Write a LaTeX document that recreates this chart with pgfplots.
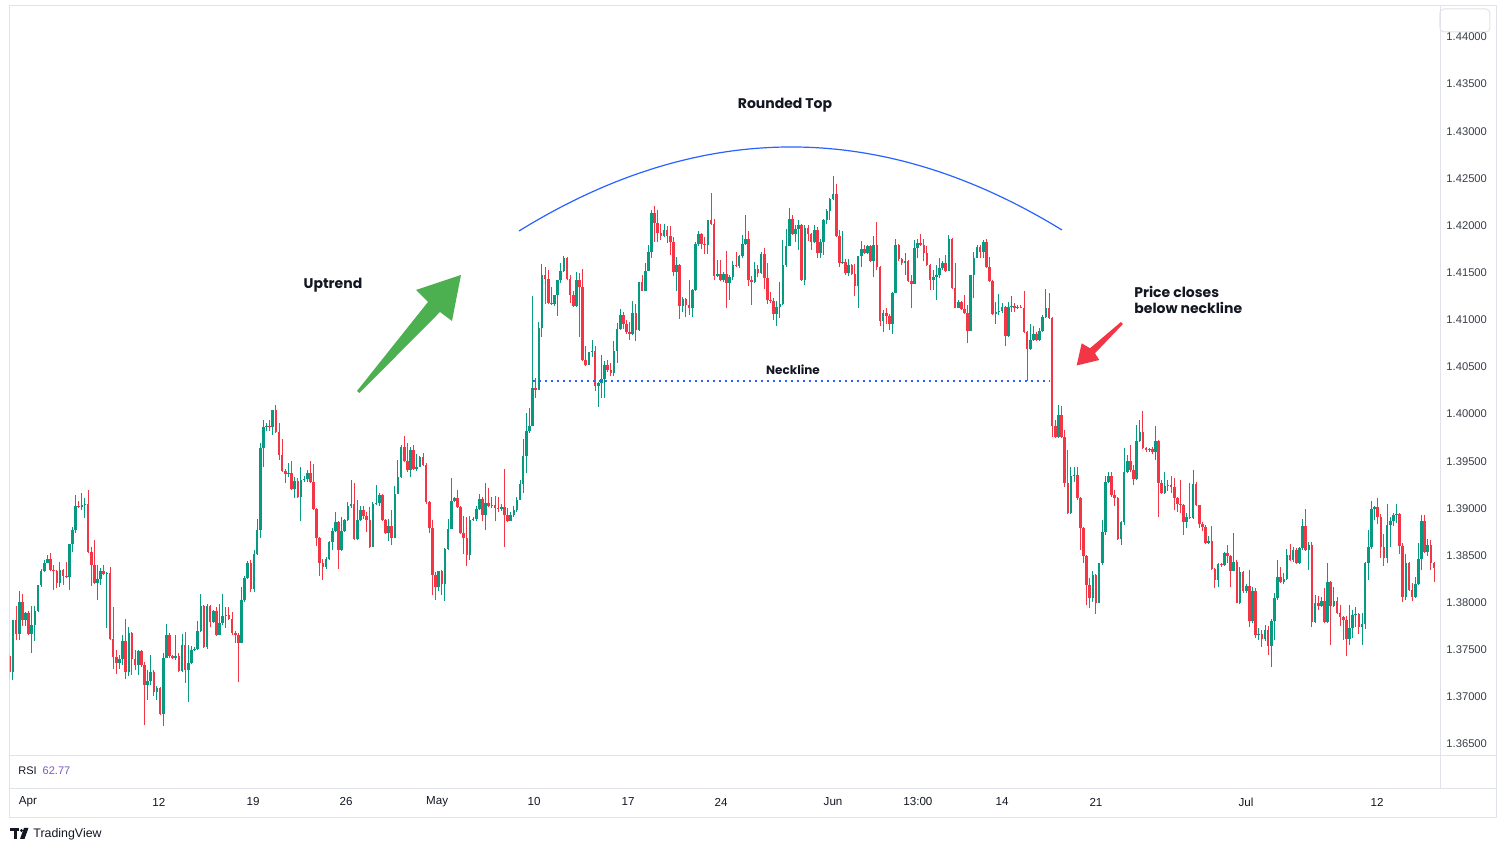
\documentclass[border=0pt]{standalone}
\usepackage{fontspec}
\setmainfont{Liberation Sans}
\newfontfamily\annfont{Poppins}
\usepackage{pgfplots}
\pgfplotsset{compat=1.18}
\usepackage{pgfplotstable}
\definecolor{upc}{HTML}{089981}
\definecolor{dnc}{HTML}{F23645}
\definecolor{tvblue}{HTML}{2962FF}
\definecolor{txt}{HTML}{131722}
\definecolor{scl}{HTML}{3B3F4A}
\definecolor{brd}{HTML}{E0E3EB}
\definecolor{arrg}{HTML}{4CAF50}
\definecolor{rsic}{HTML}{7E57C2}

% GBPUSD 4h candles: n o h l c  (rising candles)
\pgfplotstableread{
n o h l c
0 1.3726 1.3782 1.3718 1.3782
2 1.3767 1.3812 1.3760 1.3801
4 1.3782 1.3790 1.3775 1.3789
6 1.3767 1.3796 1.3747 1.3776
7 1.3776 1.3796 1.3759 1.3791
8 1.3791 1.3819 1.3790 1.3819
9 1.3819 1.3836 1.3817 1.3833
10 1.3833 1.3845 1.3832 1.3842
11 1.3842 1.3850 1.3842 1.3846
15 1.3821 1.3843 1.3817 1.3835
18 1.3827 1.3862 1.3813 1.3862
19 1.3862 1.3880 1.3854 1.3877
20 1.3877 1.3914 1.3874 1.3902
22 1.3901 1.3916 1.3898 1.3903
23 1.3903 1.3911 1.3890 1.3905
27 1.3821 1.3840 1.3803 1.3825
28 1.3825 1.3837 1.3819 1.3834
30 1.3830 1.3832 1.3773 1.3831
34 1.3736 1.3744 1.3730 1.3740
35 1.3740 1.3766 1.3734 1.3759
37 1.3726 1.3774 1.3722 1.3768
40 1.3734 1.3750 1.3723 1.3749
43 1.3712 1.3728 1.3697 1.3717
44 1.3717 1.3744 1.3713 1.3726
46 1.3705 1.3711 1.3697 1.3709
48 1.3682 1.3747 1.3669 1.3741
49 1.3741 1.3777 1.3741 1.3766
52 1.3741 1.3766 1.3739 1.3743
54 1.3727 1.3767 1.3726 1.3755
56 1.3728 1.3755 1.3695 1.3736
57 1.3736 1.3754 1.3735 1.3750
58 1.3750 1.3753 1.3749 1.3751
59 1.3751 1.3780 1.3750 1.3770
60 1.3770 1.3809 1.3769 1.3796
62 1.3753 1.3798 1.3751 1.3796
64 1.3779 1.3792 1.3778 1.3791
66 1.3766 1.3798 1.3766 1.3778
67 1.3778 1.3809 1.3776 1.3786
68 1.3786 1.3795 1.3773 1.3787
73 1.3757 1.3816 1.3757 1.3803
74 1.3803 1.3828 1.3801 1.3826
75 1.3826 1.3844 1.3825 1.3842
77 1.3814 1.3856 1.3811 1.3851
78 1.3851 1.3889 1.3850 1.3877
79 1.3877 1.3969 1.3868 1.3964
80 1.3964 1.3994 1.3944 1.3986
81 1.3986 1.3990 1.3982 1.3987
83 1.3986 1.4004 1.3978 1.4004
88 1.3936 1.3948 1.3933 1.3937
90 1.3920 1.3933 1.3911 1.3929
92 1.3912 1.3944 1.3886 1.3930
93 1.3930 1.3934 1.3928 1.3931
94 1.3931 1.3941 1.3928 1.3937
100 1.3838 1.3848 1.3836 1.3846
101 1.3846 1.3865 1.3845 1.3864
102 1.3864 1.3879 1.3856 1.3876
103 1.3876 1.3896 1.3875 1.3885
105 1.3856 1.3891 1.3855 1.3876
106 1.3876 1.3889 1.3875 1.3888
107 1.3888 1.3907 1.3887 1.3902
108 1.3902 1.3930 1.3900 1.3905
110 1.3867 1.3909 1.3866 1.3888
111 1.3888 1.3902 1.3887 1.3898
115 1.3859 1.3907 1.3859 1.3905
116 1.3905 1.3925 1.3904 1.3906
117 1.3906 1.3916 1.3902 1.3914
120 1.3874 1.3889 1.3865 1.3881
122 1.3868 1.3924 1.3868 1.3915
123 1.3915 1.3951 1.3915 1.3933
124 1.3933 1.3967 1.3932 1.3965
127 1.3941 1.3965 1.3933 1.3962
129 1.3942 1.3958 1.3940 1.3944
130 1.3944 1.3955 1.3944 1.3954
136 1.3817 1.3834 1.3812 1.3834
138 1.3820 1.3858 1.3802 1.3857
139 1.3857 1.3889 1.3856 1.3878
140 1.3878 1.3932 1.3878 1.3908
141 1.3908 1.3912 1.3907 1.3911
146 1.3850 1.3892 1.3845 1.3888
147 1.3888 1.3891 1.3886 1.3889
148 1.3889 1.3902 1.3886 1.3899
149 1.3899 1.3915 1.3898 1.3910
151 1.3893 1.3927 1.3877 1.3906
153 1.3902 1.3912 1.3900 1.3904
156 1.3899 1.3905 1.3897 1.3901
159 1.3886 1.3896 1.3886 1.3893
160 1.3893 1.3902 1.3891 1.3898
161 1.3898 1.3912 1.3896 1.3909
162 1.3909 1.3930 1.3909 1.3926
163 1.3926 1.3973 1.3916 1.3955
164 1.3955 1.4001 1.3937 1.3982
165 1.3982 1.4006 1.3980 1.3987
166 1.3987 1.4125 1.3987 1.4028
168 1.4026 1.4098 1.4026 1.4091
169 1.4091 1.4159 1.4082 1.4148
173 1.4117 1.4126 1.4115 1.4126
174 1.4126 1.4142 1.4104 1.4142
175 1.4142 1.4160 1.4139 1.4152
176 1.4152 1.4168 1.4151 1.4165
180 1.4115 1.4151 1.4114 1.4142
184 1.4052 1.4066 1.4052 1.4066
185 1.4066 1.4079 1.4061 1.4067
187 1.4030 1.4034 1.4007 1.4033
188 1.4033 1.4063 1.4017 1.4037
189 1.4037 1.4056 1.4017 1.4052
192 1.4044 1.4078 1.4040 1.4067
193 1.4067 1.4097 1.4054 1.4090
194 1.4090 1.4111 1.4089 1.4105
198 1.4085 1.4120 1.4084 1.4107
200 1.4089 1.4140 1.4088 1.4140
202 1.4131 1.4160 1.4131 1.4152
203 1.4152 1.4179 1.4152 1.4172
204 1.4172 1.4216 1.4166 1.4213
208 1.4189 1.4202 1.4188 1.4195
212 1.4151 1.4167 1.4131 1.4158
214 1.4115 1.4124 1.4108 1.4122
217 1.4112 1.4133 1.4103 1.4132
218 1.4132 1.4183 1.4131 1.4180
219 1.4180 1.4194 1.4178 1.4191
222 1.4179 1.4206 1.4170 1.4206
225 1.4146 1.4163 1.4145 1.4149
227 1.4142 1.4151 1.4140 1.4149
229 1.4139 1.4147 1.4121 1.4145
230 1.4145 1.4162 1.4142 1.4158
232 1.4157 1.4169 1.4155 1.4168
233 1.4168 1.4190 1.4166 1.4180
234 1.4180 1.4211 1.4179 1.4186
237 1.4140 1.4161 1.4139 1.4154
239 1.4150 1.4172 1.4149 1.4170
244 1.4106 1.4120 1.4093 1.4114
245 1.4114 1.4140 1.4102 1.4117
246 1.4117 1.4185 1.4116 1.4158
247 1.4158 1.4196 1.4156 1.4178
248 1.4178 1.4219 1.4178 1.4207
250 1.4191 1.4201 1.4183 1.4196
251 1.4196 1.4206 1.4174 1.4201
253 1.4142 1.4201 1.4137 1.4197
256 1.4182 1.4201 1.4181 1.4195
258 1.4171 1.4186 1.4166 1.4182
259 1.4182 1.4207 1.4169 1.4206
260 1.4206 1.4218 1.4202 1.4215
261 1.4215 1.4229 1.4206 1.4228
262 1.4228 1.4252 1.4227 1.4233
265 1.4160 1.4194 1.4159 1.4161
267 1.4150 1.4164 1.4146 1.4158
270 1.4136 1.4168 1.4113 1.4168
271 1.4168 1.4184 1.4156 1.4175
273 1.4171 1.4179 1.4170 1.4178
275 1.4162 1.4189 1.4145 1.4179
278 1.4099 1.4110 1.4087 1.4107
281 1.4095 1.4129 1.4085 1.4128
282 1.4128 1.4186 1.4128 1.4179
285 1.4160 1.4171 1.4148 1.4162
288 1.4138 1.4185 1.4138 1.4176
289 1.4176 1.4186 1.4165 1.4181
294 1.4142 1.4153 1.4132 1.4145
295 1.4145 1.4158 1.4121 1.4148
296 1.4148 1.4165 1.4144 1.4155
297 1.4155 1.4162 1.4153 1.4160
299 1.4152 1.4190 1.4152 1.4186
302 1.4113 1.4121 1.4112 1.4119
306 1.4088 1.4148 1.4088 1.4148
307 1.4148 1.4172 1.4123 1.4166
308 1.4166 1.4179 1.4165 1.4177
310 1.4172 1.4185 1.4165 1.4183
314 1.4106 1.4119 1.4096 1.4108
315 1.4108 1.4127 1.4105 1.4109
316 1.4109 1.4118 1.4107 1.4114
318 1.4083 1.4119 1.4082 1.4114
319 1.4114 1.4125 1.4108 1.4115
321 1.4112 1.4116 1.4111 1.4114
325 1.4069 1.4095 1.4068 1.4079
326 1.4079 1.4093 1.4078 1.4085
328 1.4079 1.4091 1.4078 1.4088
329 1.4088 1.4105 1.4087 1.4103
330 1.4103 1.4133 1.4102 1.4112
334 1.3976 1.4010 1.3975 1.3999
338 1.3895 1.3944 1.3894 1.3934
339 1.3934 1.3944 1.3928 1.3935
345 1.3805 1.3833 1.3801 1.3829
347 1.3800 1.3842 1.3799 1.3842
348 1.3842 1.3888 1.3840 1.3875
349 1.3875 1.3934 1.3872 1.3928
350 1.3928 1.3939 1.3927 1.3934
354 1.3867 1.3886 1.3861 1.3885
355 1.3885 1.3964 1.3882 1.3939
356 1.3939 1.3957 1.3937 1.3950
359 1.3931 1.3988 1.3930 1.3971
360 1.3971 1.3994 1.3970 1.3981
363 1.3962 1.3964 1.3960 1.3963
365 1.3960 1.3987 1.3951 1.3971
368 1.3916 1.3939 1.3915 1.3924
369 1.3924 1.3930 1.3918 1.3925
375 1.3885 1.3895 1.3879 1.3891
377 1.3890 1.3941 1.3889 1.3926
382 1.3863 1.3871 1.3862 1.3865
385 1.3824 1.3842 1.3817 1.3841
387 1.3840 1.3854 1.3839 1.3853
390 1.3834 1.3874 1.3833 1.3843
392 1.3800 1.3838 1.3798 1.3832
394 1.3812 1.3820 1.3810 1.3818
396 1.3780 1.3816 1.3778 1.3812
398 1.3766 1.3773 1.3760 1.3767
400 1.3761 1.3776 1.3759 1.3771
402 1.3754 1.3783 1.3732 1.3780
403 1.3780 1.3810 1.3760 1.3805
404 1.3805 1.3845 1.3803 1.3827
406 1.3822 1.3831 1.3820 1.3825
407 1.3825 1.3857 1.3824 1.3850
409 1.3845 1.3859 1.3843 1.3856
411 1.3842 1.3859 1.3841 1.3858
412 1.3858 1.3889 1.3856 1.3881
414 1.3856 1.3864 1.3835 1.3861
416 1.3779 1.3808 1.3778 1.3800
418 1.3796 1.3806 1.3795 1.3802
420 1.3779 1.3842 1.3778 1.3822
422 1.3796 1.3816 1.3795 1.3802
427 1.3761 1.3797 1.3755 1.3773
428 1.3773 1.3792 1.3762 1.3787
429 1.3787 1.3795 1.3774 1.3788
431 1.3774 1.3789 1.3755 1.3777
432 1.3777 1.3843 1.3772 1.3842
433 1.3842 1.3877 1.3824 1.3859
434 1.3859 1.3908 1.3857 1.3899
435 1.3899 1.3902 1.3888 1.3901
439 1.3847 1.3905 1.3842 1.3882
440 1.3882 1.3891 1.3859 1.3887
441 1.3887 1.3895 1.3881 1.3893
442 1.3893 1.3905 1.3884 1.3894
445 1.3806 1.3852 1.3803 1.3842
448 1.3806 1.3827 1.3805 1.3820
449 1.3820 1.3863 1.3819 1.3846
450 1.3846 1.3893 1.3835 1.3886
452 1.3854 1.3867 1.3849 1.3861
}\upcandles

% falling candles
\pgfplotstableread{
n o h l c
-1 1.3743 1.3746 1.3719 1.3726
1 1.3782 1.3796 1.3760 1.3767
3 1.3801 1.3809 1.3775 1.3782
5 1.3789 1.3791 1.3766 1.3767
12 1.3846 1.3853 1.3833 1.3835
13 1.3835 1.3840 1.3813 1.3833
14 1.3833 1.3835 1.3815 1.3821
16 1.3835 1.3836 1.3819 1.3828
17 1.3828 1.3843 1.3826 1.3827
21 1.3902 1.3908 1.3900 1.3901
24 1.3905 1.3919 1.3853 1.3854
25 1.3854 1.3859 1.3818 1.3840
26 1.3840 1.3866 1.3820 1.3821
29 1.3834 1.3840 1.3829 1.3830
31 1.3831 1.3838 1.3760 1.3761
32 1.3761 1.3795 1.3729 1.3742
33 1.3742 1.3750 1.3724 1.3736
36 1.3759 1.3783 1.3719 1.3726
38 1.3768 1.3769 1.3723 1.3740
39 1.3740 1.3750 1.3728 1.3734
41 1.3749 1.3750 1.3732 1.3734
42 1.3734 1.3737 1.3670 1.3712
45 1.3726 1.3728 1.3701 1.3705
47 1.3709 1.3710 1.3681 1.3682
50 1.3766 1.3768 1.3741 1.3743
51 1.3743 1.3744 1.3740 1.3741
53 1.3743 1.3746 1.3726 1.3727
55 1.3755 1.3769 1.3715 1.3728
61 1.3796 1.3797 1.3752 1.3753
63 1.3796 1.3797 1.3774 1.3779
65 1.3791 1.3795 1.3765 1.3766
69 1.3787 1.3795 1.3782 1.3783
70 1.3783 1.3790 1.3766 1.3768
71 1.3768 1.3770 1.3757 1.3766
72 1.3766 1.3768 1.3716 1.3757
76 1.3842 1.3845 1.3811 1.3814
82 1.3987 1.3994 1.3982 1.3986
84 1.4004 1.4010 1.3980 1.3981
85 1.3981 1.3990 1.3951 1.3957
86 1.3957 1.3974 1.3939 1.3940
87 1.3940 1.3942 1.3927 1.3936
89 1.3937 1.3950 1.3919 1.3920
91 1.3929 1.3932 1.3911 1.3912
95 1.3937 1.3950 1.3927 1.3928
96 1.3928 1.3947 1.3898 1.3899
97 1.3899 1.3900 1.3860 1.3869
98 1.3869 1.3870 1.3828 1.3842
99 1.3842 1.3846 1.3824 1.3838
104 1.3885 1.3886 1.3836 1.3856
109 1.3905 1.3927 1.3866 1.3867
112 1.3898 1.3902 1.3889 1.3892
113 1.3892 1.3896 1.3875 1.3888
114 1.3888 1.3901 1.3858 1.3859
118 1.3914 1.3915 1.3887 1.3888
119 1.3888 1.3889 1.3873 1.3874
121 1.3881 1.3898 1.3861 1.3868
125 1.3965 1.3977 1.3949 1.3950
126 1.3950 1.3969 1.3939 1.3941
128 1.3962 1.3967 1.3941 1.3942
131 1.3954 1.3959 1.3945 1.3946
132 1.3946 1.3948 1.3905 1.3907
133 1.3907 1.3908 1.3874 1.3879
134 1.3879 1.3888 1.3808 1.3829
135 1.3829 1.3832 1.3803 1.3817
137 1.3834 1.3835 1.3808 1.3820
142 1.3911 1.3919 1.3900 1.3901
143 1.3901 1.3902 1.3873 1.3874
144 1.3874 1.3892 1.3852 1.3869
145 1.3869 1.3891 1.3839 1.3850
150 1.3910 1.3912 1.3886 1.3893
152 1.3906 1.3921 1.3901 1.3902
154 1.3904 1.3913 1.3886 1.3900
155 1.3900 1.3912 1.3896 1.3899
157 1.3901 1.3942 1.3859 1.3893
158 1.3893 1.3900 1.3885 1.3886
167 1.4028 1.4038 1.4017 1.4026
170 1.4148 1.4156 1.4117 1.4143
171 1.4143 1.4153 1.4117 1.4118
172 1.4118 1.4135 1.4116 1.4117
177 1.4165 1.4167 1.4142 1.4143
178 1.4143 1.4148 1.4118 1.4126
179 1.4126 1.4130 1.4114 1.4115
181 1.4142 1.4150 1.4082 1.4135
182 1.4135 1.4154 1.4056 1.4057
183 1.4057 1.4072 1.4051 1.4052
186 1.4067 1.4072 1.4024 1.4030
190 1.4052 1.4057 1.4045 1.4047
191 1.4047 1.4054 1.4040 1.4044
195 1.4105 1.4108 1.4090 1.4095
196 1.4095 1.4100 1.4085 1.4087
197 1.4087 1.4098 1.4079 1.4085
199 1.4107 1.4117 1.4078 1.4089
201 1.4140 1.4147 1.4130 1.4131
205 1.4213 1.4221 1.4183 1.4203
206 1.4203 1.4216 1.4183 1.4192
207 1.4192 1.4202 1.4185 1.4189
209 1.4195 1.4199 1.4181 1.4189
210 1.4189 1.4199 1.4169 1.4182
211 1.4182 1.4188 1.4146 1.4151
213 1.4158 1.4159 1.4101 1.4115
215 1.4122 1.4123 1.4103 1.4116
216 1.4116 1.4142 1.4105 1.4112
220 1.4191 1.4192 1.4175 1.4180
221 1.4180 1.4188 1.4170 1.4179
223 1.4206 1.4235 1.4201 1.4202
224 1.4202 1.4207 1.4142 1.4146
226 1.4149 1.4163 1.4141 1.4142
228 1.4149 1.4173 1.4112 1.4139
231 1.4158 1.4172 1.4156 1.4157
235 1.4186 1.4194 1.4136 1.4142
236 1.4142 1.4146 1.4116 1.4140
238 1.4154 1.4158 1.4145 1.4150
240 1.4170 1.4176 1.4133 1.4144
241 1.4144 1.4160 1.4117 1.4121
242 1.4121 1.4129 1.4118 1.4120
243 1.4120 1.4123 1.4100 1.4106
249 1.4207 1.4211 1.4190 1.4191
252 1.4201 1.4202 1.4141 1.4142
254 1.4197 1.4201 1.4184 1.4191
255 1.4191 1.4192 1.4174 1.4182
257 1.4195 1.4198 1.4165 1.4171
263 1.4233 1.4244 1.4188 1.4189
264 1.4189 1.4195 1.4156 1.4160
266 1.4161 1.4164 1.4148 1.4150
268 1.4158 1.4159 1.4148 1.4149
269 1.4149 1.4159 1.4125 1.4136
272 1.4175 1.4179 1.4170 1.4171
274 1.4178 1.4179 1.4161 1.4162
276 1.4179 1.4204 1.4153 1.4156
277 1.4156 1.4157 1.4093 1.4099
279 1.4107 1.4112 1.4096 1.4104
280 1.4104 1.4106 1.4089 1.4095
283 1.4179 1.4180 1.4162 1.4164
284 1.4164 1.4166 1.4158 1.4160
286 1.4162 1.4163 1.4140 1.4141
287 1.4141 1.4148 1.4112 1.4138
290 1.4181 1.4191 1.4178 1.4179
291 1.4179 1.4186 1.4162 1.4171
292 1.4171 1.4178 1.4157 1.4158
293 1.4158 1.4159 1.4132 1.4142
298 1.4160 1.4169 1.4151 1.4152
300 1.4186 1.4187 1.4133 1.4134
301 1.4134 1.4160 1.4112 1.4113
303 1.4119 1.4120 1.4110 1.4111
304 1.4111 1.4126 1.4106 1.4107
305 1.4107 1.4116 1.4075 1.4088
309 1.4177 1.4179 1.4165 1.4172
311 1.4183 1.4186 1.4155 1.4156
312 1.4156 1.4167 1.4140 1.4141
313 1.4141 1.4142 1.4105 1.4106
317 1.4114 1.4115 1.4072 1.4083
320 1.4115 1.4118 1.4108 1.4112
322 1.4114 1.4116 1.4112 1.4113
323 1.4113 1.4130 1.4086 1.4087
324 1.4087 1.4088 1.4035 1.4069
327 1.4085 1.4087 1.4078 1.4079
331 1.4112 1.4128 1.4101 1.4102
332 1.4102 1.4103 1.3976 1.3987
333 1.3987 1.3994 1.3975 1.3976
335 1.3999 1.4008 1.3975 1.3976
336 1.3976 1.3983 1.3923 1.3927
337 1.3927 1.3962 1.3894 1.3895
340 1.3935 1.3944 1.3909 1.3911
341 1.3911 1.3912 1.3856 1.3879
342 1.3879 1.3880 1.3842 1.3849
343 1.3849 1.3850 1.3797 1.3819
344 1.3819 1.3826 1.3794 1.3805
346 1.3829 1.3830 1.3788 1.3800
351 1.3934 1.3938 1.3912 1.3914
352 1.3914 1.3919 1.3902 1.3911
353 1.3911 1.3912 1.3866 1.3867
357 1.3950 1.3967 1.3939 1.3941
358 1.3941 1.3946 1.3925 1.3931
361 1.3981 1.4003 1.3963 1.3964
362 1.3964 1.3965 1.3960 1.3962
364 1.3963 1.3965 1.3958 1.3960
366 1.3971 1.3972 1.3891 1.3927
367 1.3927 1.3930 1.3915 1.3916
370 1.3925 1.3934 1.3916 1.3923
371 1.3923 1.3932 1.3898 1.3911
372 1.3911 1.3912 1.3896 1.3905
373 1.3905 1.3930 1.3895 1.3903
374 1.3903 1.3905 1.3872 1.3885
376 1.3891 1.3927 1.3889 1.3890
378 1.3926 1.3928 1.3902 1.3903
379 1.3903 1.3904 1.3879 1.3883
380 1.3883 1.3885 1.3876 1.3880
381 1.3880 1.3882 1.3862 1.3863
383 1.3865 1.3881 1.3835 1.3836
384 1.3836 1.3837 1.3815 1.3824
386 1.3841 1.3842 1.3838 1.3840
388 1.3853 1.3861 1.3842 1.3849
389 1.3849 1.3850 1.3816 1.3834
391 1.3843 1.3845 1.3799 1.3800
393 1.3832 1.3833 1.3810 1.3812
395 1.3818 1.3835 1.3774 1.3780
397 1.3812 1.3815 1.3762 1.3766
399 1.3767 1.3771 1.3753 1.3761
401 1.3771 1.3775 1.3744 1.3754
405 1.3827 1.3838 1.3821 1.3822
408 1.3850 1.3862 1.3844 1.3845
410 1.3856 1.3858 1.3841 1.3842
413 1.3881 1.3899 1.3855 1.3856
415 1.3861 1.3864 1.3774 1.3779
417 1.3800 1.3807 1.3792 1.3796
419 1.3802 1.3815 1.3778 1.3779
421 1.3822 1.3823 1.3755 1.3796
423 1.3802 1.3806 1.3788 1.3789
424 1.3789 1.3797 1.3775 1.3785
425 1.3785 1.3786 1.3760 1.3782
426 1.3782 1.3786 1.3743 1.3761
430 1.3788 1.3789 1.3767 1.3774
436 1.3901 1.3911 1.3883 1.3891
437 1.3891 1.3894 1.3847 1.3859
438 1.3859 1.3873 1.3839 1.3847
443 1.3894 1.3895 1.3852 1.3860
444 1.3860 1.3863 1.3801 1.3806
446 1.3842 1.3843 1.3812 1.3813
447 1.3813 1.3821 1.3802 1.3806
451 1.3886 1.3893 1.3853 1.3854
453 1.3861 1.3866 1.3835 1.3842
454 1.3842 1.3843 1.3822 1.3837
}\dncandles

\begin{document}
\begin{tikzpicture}
\path[use as bounding box, fill=white] (0,0) rectangle (752.5bp,426bp);
% frame (pixel coordinates)
\begin{scope}[x=0.5bp,y=-0.5bp,yshift=426bp]
  \draw[brd, line width=0.5bp] (9.5,5.5) rectangle (1496.5,817.5);
  \draw[brd, line width=0.5bp] (9.5,755.5) -- (1496.5,755.5);
  \draw[brd, line width=0.5bp] (9.5,788.5) -- (1496.5,788.5);
  \draw[brd, line width=0.5bp] (1440.5,5.5) -- (1440.5,788.5);
  \draw[brd, line width=0.5bp, rounded corners=2bp] (1440,9) rectangle (1490,32);
\end{scope}
\begin{axis}[
  at={(5bp,48.5bp)}, anchor=south west,
  scale only axis, width=715bp, height=375bp,
  xmin=-0.958, xmax=455.91,
  ymin=1.363827, ymax=1.443395,
  axis line style={draw=none},
  major tick length=0pt, tick style={draw=none},
  xtick={4.8,46.6,76.7,106.4,135.5,166.5,196.5,226.2,262,289.1,316,346,393.9,435.8},
  xticklabels={Apr,12,19,26,May,10,17,24,Jun,13:00,14,21,Jul,12},
  xticklabel style={anchor=center, yshift=-23.5bp, text=txt,
    font=\fontsize{5.8bp}{7bp}\selectfont},
  ytick={1.365,1.370,1.375,1.380,1.385,1.390,1.395,1.400,1.405,1.410,1.415,1.420,1.425,1.430,1.435,1.440},
  yticklabels={1.36500,1.37000,1.37500,1.38000,1.38500,1.39000,1.39500,1.40000,1.40500,1.41000,1.41500,1.42000,1.42500,1.43000,1.43500,1.44000},
  yticklabel pos=right,
  yticklabel style={anchor=west, xshift=-0.3bp, text=scl,
    font=\fontsize{5.6bp}{7bp}\selectfont},
  candle/.style={draw=none, fill=none, no markers, forget plot,
    error bars/.cd, y dir=plus, y explicit, error mark=none},
]
% wicks
\addplot[candle, error bar style={draw=upc, line width=0.5bp}]
  table[x=n, y=l, y error plus expr=\thisrow{h}-\thisrow{l}] {\upcandles};
\addplot[candle, error bar style={draw=dnc, line width=0.5bp}]
  table[x=n, y=l, y error plus expr=\thisrow{h}-\thisrow{l}] {\dncandles};
% bodies
\addplot[candle, error bar style={draw=upc, line width=1.3bp}]
  table[x=n, y=o, y error plus expr=\thisrow{c}-\thisrow{o}] {\upcandles};
\addplot[candle, error bar style={draw=dnc, line width=1.3bp}]
  table[x=n, y=c, y error plus expr=\thisrow{o}-\thisrow{c}] {\dncandles};
% neckline
\addplot[tvblue, line width=1bp, dash pattern=on 1bp off 2bp, forget plot]
  coordinates {(166.1,1.4035) (331.3,1.4035)};
\end{axis}
% annotations (pixel coordinates)
\begin{scope}[x=0.5bp,y=-0.5bp,yshift=426bp]
  \draw[tvblue, line width=0.6bp] (519,231) .. controls (700,119.3) and (881,119) .. (1062,230);
  \fill[arrg] (357,391) -- (428,302) -- (416,290) -- (461,275) -- (452,321) -- (440,312) -- (359.5,393) -- cycle;
  \fill[dnc] (1121,322) -- (1090,348.3) -- (1081.7,343.3) -- (1076.7,365.5) -- (1099.3,360) -- (1095,353.3) -- (1123,324) -- cycle;
  \node[text=txt, font=\annfont\bfseries\fontsize{7bp}{8bp}\selectfont] at (785,105) {Rounded Top};
  \node[text=txt, font=\annfont\bfseries\fontsize{7bp}{8bp}\selectfont] at (333,285) {Uptrend};
  \node[text=txt, font=\annfont\bfseries\fontsize{6bp}{7bp}\selectfont] at (793,370) {Neckline};
  \node[text=txt, anchor=west, align=left, inner sep=0pt, font=\annfont\bfseries\fontsize{7bp}{8bp}\selectfont] at (1134,300) {Price closes\\below neckline};
  \node[anchor=west, inner sep=0pt, font=\fontsize{5.5bp}{7bp}\selectfont] at (18,771) {\textcolor{txt}{RSI}\hspace{3bp}\textcolor{rsic}{62.77}};
  % TradingView logo
  \fill[txt] (10,828) rectangle (19,831);
  \fill[txt] (14,828) rectangle (17.5,839);
  \fill[txt] (21.5,830.5) circle (1.6);
  \fill[txt] (24,828) -- (28.5,828) -- (24.5,839) -- (20,839) -- cycle;
  \node[anchor=west, inner sep=0pt, text=txt, font=\fontsize{6.2bp}{7bp}\selectfont] at (33,834) {TradingView};
\end{scope}
\end{tikzpicture}
\end{document}
